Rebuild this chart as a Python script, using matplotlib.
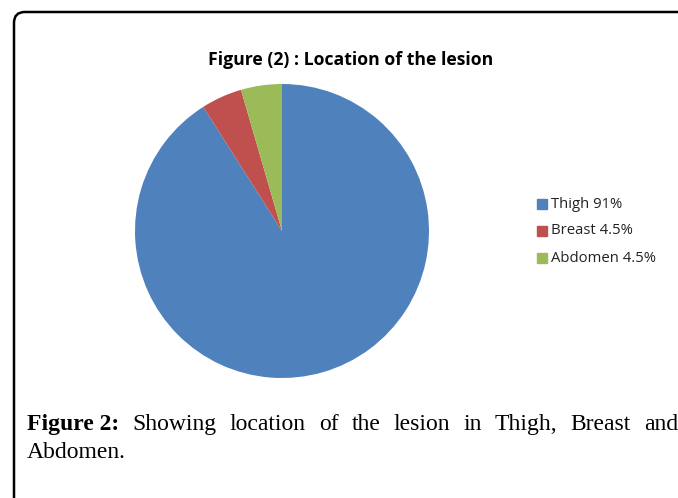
import matplotlib.pyplot as plt
from matplotlib.patches import FancyBboxPatch

labels = ["Thigh 91%", "Breast 4.5%", "Abdomen 4.5%"]
values = [91, 4.5, 4.5]
colors = ["#4F81BD", "#C0504D", "#9BBB59"]

title = "Figure (2) : Location of the lesion"
caption_bold = "Figure 2:"
caption_line1 = "Showing location of the lesion in Thigh, Breast and"
caption_line2 = "Abdomen."

W, H = 678, 498
fig = plt.figure(figsize=(W / 100, H / 100), dpi=100)

# rounded frame, open at right and bottom
frame = FancyBboxPatch((14 / W, -0.2), 1.2, 1 - 12 / H + 0.2,
                       boxstyle="round,pad=0,rounding_size=0.016",
                       transform=fig.transFigure, fill=False,
                       edgecolor="black", linewidth=1.8, mutation_aspect=W / H)
fig.patches.append(frame)

# pie
r = 147
cx, cy = 282, 231
ax = fig.add_axes([(cx - r) / W, 1 - (cy + r) / H, 2 * r / W, 2 * r / H])
ax.pie(values, colors=colors, startangle=90, counterclock=False,
       wedgeprops=dict(linewidth=0))
ax.set_aspect("auto")
ax.set_xlim(-1, 1)
ax.set_ylim(-1, 1)

fig.text(351 / W, 1 - 60 / H, title, ha="center", va="center",
         fontsize=12.7, fontweight="bold", family="Open Sans")

# legend
for i, (lab, c) in enumerate(zip(labels, colors)):
    y = 204 + 27 * i
    fig.patches.append(plt.Rectangle((537 / W, 1 - (y + 5) / H), 10 / W, 10 / H,
                                     transform=fig.transFigure, color=c))
    fig.text(551 / W, 1 - y / H, lab, ha="left", va="center",
             fontsize=10.7, family="Open Sans", color="#222222")

# caption, line 1 justified between x=27 and x=678
fig.canvas.draw()
renderer = fig.canvas.get_renderer()
words = [(caption_bold, "bold")] + [(w, "normal") for w in caption_line1.split()]
texts = []
for w, wt in words:
    t = fig.text(0, 1 - 424 / H, w, ha="left", va="center", fontsize=17,
                 fontweight=wt, family="Liberation Serif")
    texts.append(t)
widths = [t.get_window_extent(renderer).width for t in texts]
gap = (678 - 27 - sum(widths)) / (len(texts) - 1)
x = 27
for t, wd in zip(texts, widths):
    t.set_x(x / W)
    x += wd + gap

fig.text(27 / W, 1 - 452 / H, caption_line2, ha="left", va="center",
         fontsize=17, family="Liberation Serif")

fig.savefig("out.png", dpi=100)
